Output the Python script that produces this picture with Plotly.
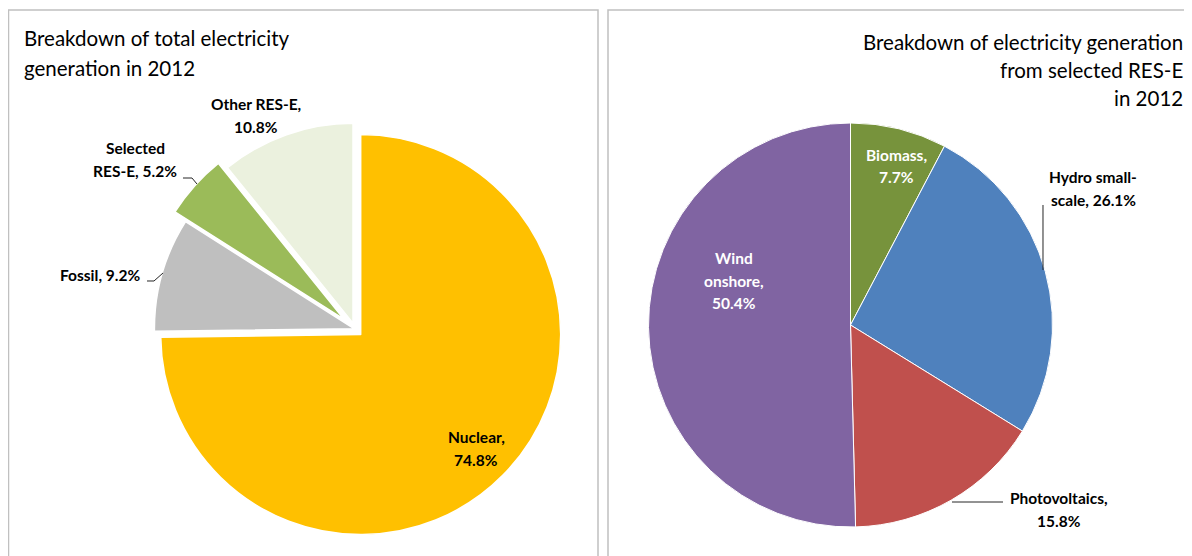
import textwrap
import plotly.graph_objects as go

# the page puts the figure 8px in from the top-left corner
OFF = 8
W, H = 1192 - OFF, 556 - OFF

# data
left_names = ["Nuclear", "Fossil", "Selected RES-E", "Other RES-E"]
left_values = [74.8, 9.2, 5.2, 10.8]
left_colors = ["#FFC000", "#BFBFBF", "#9BBB59", "#EBF1DE"]
left_pull = [0.04, 0.003, 0.075, 0.03]

right_names = ["Biomass", "Hydro small-scale", "Photovoltaics", "Wind onshore"]
right_values = [7.7, 26.1, 15.8, 50.4]
right_colors = ["#77933C", "#4F81BD", "#C0504D", "#8064A2"]

left_title = ["Breakdown of total electricity", "generation in 2012"]
right_title = ["Breakdown of electricity generation", "from selected RES-E", "in 2012"]

# label placement: (x, y of first line, wrap width, font colour) in screen pixels
left_label_pos = [(476, 437, 9, "black"), (100, 275, 14, "black"),
                  (135, 148, 12, "black"), (256, 104, 12, "black")]
right_label_pos = [(896, 155, 8, "white"), (1093, 177, 12, "black"),
                   (1059, 498, 14, "black"), (734, 258, 8, "white")]

FONT = "Lato"


def px(x):
    return (x - OFF) / W


def py(y):
    return 1 - (y - OFF) / H


def dom(cx, cy, half):
    return dict(x=[px(cx - half), px(cx + half)], y=[py(cy + half), py(cy - half)])


fig = go.Figure()

fig.add_trace(go.Pie(
    labels=left_names, values=left_values, sort=False, direction="clockwise",
    rotation=0, pull=left_pull, textinfo="none",
    marker=dict(colors=left_colors, line=dict(color="white", width=1.5)),
    domain=dom(355, 329, 200 * (1 + max(left_pull))), showlegend=False,
))
fig.add_trace(go.Pie(
    labels=right_names, values=right_values, sort=False, direction="clockwise",
    rotation=0, textinfo="none",
    marker=dict(colors=right_colors, line=dict(color="white", width=1)),
    domain=dom(850.5, 325, 202), showlegend=False,
))

annotations = []


def add_lines(lines, x, y0, step, size, color="black", bold=False, anchor="center"):
    for i, t in enumerate(lines):
        annotations.append(dict(
            x=px(x), y=py(y0 + i * step), xref="paper", yref="paper",
            text="<b>%s</b>" % t if bold else t, showarrow=False,
            xanchor=anchor, yanchor="middle",
            font=dict(family=FONT, size=size, color=color),
        ))


add_lines(left_title, 22, 38, 30, 20.5, anchor="left")
add_lines(right_title, 1185, 42, 28, 20.5, anchor="right")

for names, vals, pos in [(left_names, left_values, left_label_pos),
                         (right_names, right_values, right_label_pos)]:
    for n, v, (x, y, w, c) in zip(names, vals, pos):
        lines = textwrap.wrap("%s, %s%%" % (n, v), w)
        add_lines(lines, x, y, 22.5, 15.5, color=c, bold=True)

shapes = [
    # panel frames
    dict(type="rect", xref="paper", yref="paper", x0=px(8.5), x1=px(598), y0=py(580), y1=py(10),
         line=dict(color="#C0C0C0", width=1.5), layer="below"),
    dict(type="rect", xref="paper", yref="paper", x0=px(608), x1=px(1215), y0=py(580), y1=py(10),
         line=dict(color="#C0C0C0", width=1.5), layer="below"),
]

# leader lines
leaders = [
    [(183, 178), (192, 178), (197, 184)],
    [(147, 281), (154, 281), (163, 273)],
    [(1043, 205), (1043, 270)],
    [(952, 502), (1003, 502)],
]
for pts in leaders:
    path = "M " + " L ".join("%f,%f" % (px(a), py(b)) for a, b in pts)
    shapes.append(dict(type="path", xref="paper", yref="paper", path=path,
                       line=dict(color="#262626", width=1)))

fig.update_layout(
    width=W, height=H, margin=dict(l=0, r=0, t=0, b=0),
    paper_bgcolor="white", plot_bgcolor="white",
    annotations=annotations, shapes=shapes,
)

fig.write_html("out.html")
